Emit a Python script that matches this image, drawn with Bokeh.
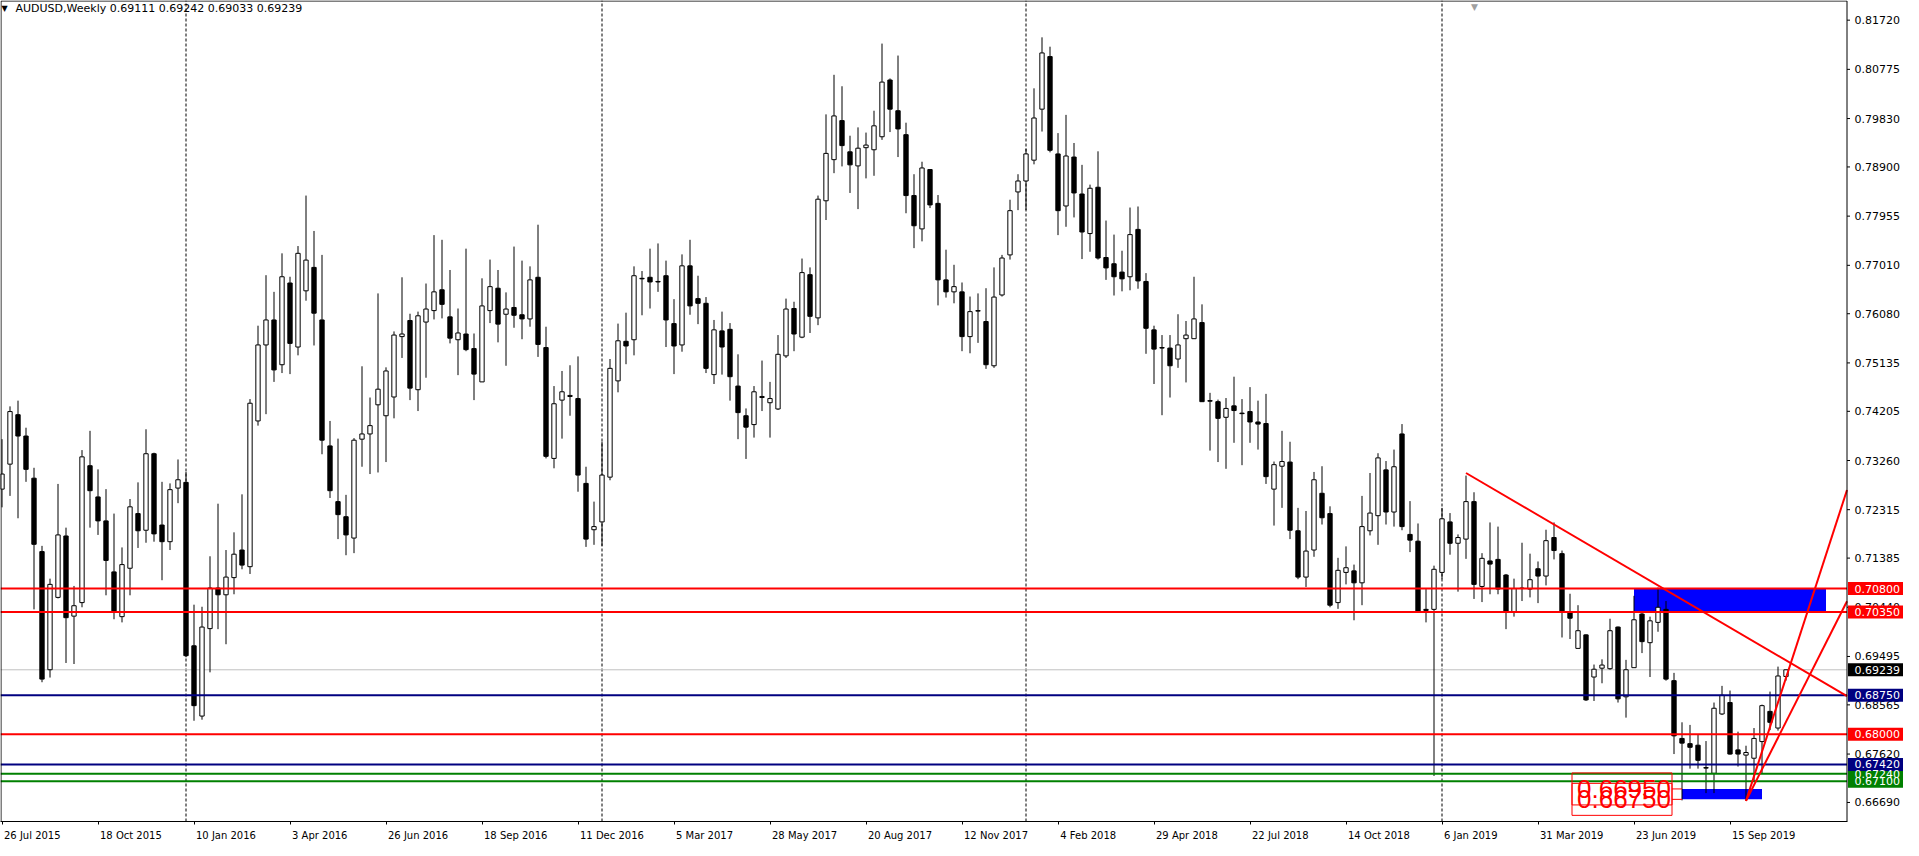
import pandas as pd
from bokeh.plotting import figure
from bokeh.models import Label, FixedTicker, Range1d, ColumnDataSource
from bokeh.core.properties import value
from bokeh.embed import file_html
from bokeh.resources import INLINE

# ---------------- data ----------------
symbol_title = "AUDUSD,Weekly  0.69111 0.69242 0.69033 0.69239"
first_week = "2015-07-26"

opens = [
    .7271, .7319, .7414, .7373, .7292, .7151, .6924, .7063, .7181, .7027,   # 0
    .7053, .7316, .7256, .7210, .7112, .7026, .7119, .7224, .7192, .7339,   # 10
    .7202, .7170, .7273, .7284, .6970, .6835, .7003, .7081, .7068, .7101,   # 20
    .7154, .7122, .7402, .7548, .7596, .7510, .7667, .7544, .7652, .7697,   # 30
    .7596, .7354, .7247, .7218, .7177, .7367, .7377, .7433, .7412, .7448,   # 40
    .7564, .7595, .7462, .7592, .7614, .7654, .7602, .7558, .7569, .7541,   # 50
    .7477, .7614, .7657, .7607, .7620, .7606, .7598, .7678, .7543, .7330,   # 60
    .7442, .7449, .7445, .7282, .7193, .7208, .7294, .7479, .7555, .7558,   # 70
    .7676, .7678, .7670, .7681, .7589, .7548, .7700, .7637, .7628, .7491,   # 80
    .7575, .7578, .7469, .7412, .7395, .7447, .7437, .7425, .7527, .7618,   # 90
    .7563, .7683, .7600, .7825, .7904, .7979, .7919, .7892, .7927, .7923,   # 100
    .7948, .8057, .7998, .7952, .7835, .7771, .7885, .7820, .7673, .7650,   # 110
    .7650, .7564, .7613, .7593, .7508, .7644, .7721, .7842, .7863, .7903,   # 120
    .8001, .8102, .7915, .7815, .7909, .7838, .7762, .7851, .7716, .7704,   # 130
    .7688, .7679, .7770, .7670, .7577, .7543, .7542, .7521, .7560, .7560,   # 140
    .7591, .7441, .7439, .7409, .7431, .7417, .7420, .7400, .7397, .7271,   # 150
    .7315, .7323, .7191, .7102, .7154, .7263, .7224, .7053, .7111, .7114,   # 160
    .7091, .7191, .7220, .7308, .7227, .7377, .7184, .7171, .7040, .7040,   # 170
    .7111, .7208, .7167, .7175, .7247, .7084, .7133, .7136, .7106, .7034,   # 180
    .7081, .7079, .7118, .7104, .7178, .7147, .7035, .6965, .6991, .6910,   # 190
    .6927, .6926, .7006, .6872, .6928, .7031, .6976, .7015, .7040, .6903,   # 200
    .6792, .6782, .6779, .6736, .6725, .6839, .6861, .6770, .6760, .6754,   # 210
    .6786, .6844, .6812, .69111,                                            # 220
]
highs = [
    .7367, .7430, .7441, .7389, .7312, .7162, .7099, .7281, .7197, .7085,
    .7346, .7383, .7309, .7271, .7224, .7159, .7252, .7284, .7386, .7341,
    .7285, .7282, .7328, .7304, .7049, .7045, .7142, .7243, .7154, .7188,
    .7261, .7444, .7585, .7682, .7650, .7724, .7679, .7738, .7835, .7767,
    .7721, .7402, .7368, .7260, .7369, .7507, .7447, .7647, .7505, .7574,
    .7678, .7608, .7612, .7666, .7759, .7750, .7692, .7618, .7733, .7570,
    .7676, .7712, .7692, .7649, .7737, .7710, .7699, .7779, .7583, .7469,
    .7498, .7509, .7526, .7314, .7247, .7362, .7521, .7589, .7610, .7699,
    .7690, .7733, .7743, .7710, .7636, .7722, .7750, .7681, .7640, .7596,
    .7612, .7590, .7530, .7426, .7469, .7518, .7477, .7567, .7637, .7631,
    .7714, .7697, .7835, .7991, .8067, .8045, .7950, .7966, .7956, .7998,
    .8127, .8060, .8104, .7975, .7876, .7900, .7886, .7836, .7731, .7702,
    .7668, .7641, .7647, .7657, .7697, .7721, .7827, .7876, .7925, .8041,
    .8139, .8121, .7955, .7990, .7936, .7894, .7856, .7920, .7787, .7760,
    .7729, .7812, .7814, .7686, .7585, .7567, .7567, .7607, .7594, .7679,
    .7626, .7456, .7443, .7446, .7487, .7444, .7467, .7441, .7454, .7324,
    .7383, .7362, .7235, .7229, .7304, .7315, .7238, .7139, .7161, .7126,
    .7258, .7302, .7340, .7325, .7347, .7396, .7248, .7205, .7079, .7124,
    .7235, .7225, .7184, .7297, .7265, .7148, .7207, .7199, .7108, .7099,
    .7168, .7147, .7132, .7193, .7207, .7153, .7070, .7048, .6992, .6934,
    .6944, .7022, .7007, .6943, .7066, .7037, .7026, .7082, .7056, .6918,
    .6823, .6818, .6800, .6787, .6861, .6893, .6884, .6805, .6778, .6812,
    .6857, .6882, .6930, .69242,
]
lows = [
    .7236, .7258, .7215, .7285, .7040, .6900, .6909, .7061, .6937, .6935,
    .7044, .7197, .7183, .7067, .7021, .7015, .7067, .7158, .7168, .7170,
    .7096, .7154, .7244, .6948, .6826, .6828, .6919, .7002, .6973, .7069,
    .7117, .7108, .7393, .7415, .7477, .7494, .7492, .7528, .7633, .7547,
    .7338, .7254, .7175, .7144, .7148, .7314, .7300, .7303, .7323, .7407,
    .7523, .7442, .7421, .7485, .7597, .7599, .7551, .7490, .7536, .7442,
    .7477, .7590, .7553, .7508, .7581, .7559, .7583, .7525, .7330, .7311,
    .7368, .7412, .7266, .7160, .7164, .7162, .7288, .7457, .7511, .7528,
    .7605, .7618, .7650, .7544, .7492, .7535, .7606, .7588, .7494, .7473,
    .7491, .7441, .7367, .7329, .7370, .7421, .7370, .7423, .7523, .7536,
    .7561, .7571, .7586, .7788, .7878, .7891, .7840, .7809, .7868, .7873,
    .7942, .7957, .7909, .7801, .7734, .7747, .7811, .7624, .7639, .7628,
    .7536, .7532, .7552, .7502, .7504, .7641, .7712, .7807, .7807, .7895,
    .7958, .7918, .7759, .7775, .7793, .7713, .7727, .7712, .7673, .7643,
    .7651, .7653, .7656, .7531, .7473, .7413, .7447, .7504, .7476, .7560,
    .7439, .7345, .7323, .7310, .7360, .7317, .7360, .7347, .7281, .7201,
    .7235, .7175, .7098, .7083, .7141, .7203, .7044, .7041, .7088, .7019,
    .7048, .7182, .7164, .7203, .7199, .7192, .7150, .7034, .7015, .6720,
    .7098, .7145, .7074, .7137, .7060, .7054, .7069, .7069, .7002, .7026,
    .7056, .7063, .7052, .7086, .7136, .6986, .6983, .6965, .6864, .6864,
    .6898, .6924, .6861, .6832, .6928, .6956, .6910, .6997, .6903, .6762,
    .6673, .6734, .6734, .6687, .6687, .6837, .6761, .6738, .6672, .6709,
    .6725, .6808, .6807, .69033,
]
closes = [
    .7300, .7420, .7373, .7309, .7165, .6906, .7088, .7183, .7024, .7047,
    .7333, .7268, .7210, .7134, .7037, .7126, .7237, .7191, .7339, .7185,
    .7170, .7270, .7289, .6951, .6855, .7006, .7081, .7068, .7102, .7146,
    .7125, .7436, .7548, .7596, .7500, .7679, .7551, .7724, .7711, .7609,
    .7365, .7268, .7222, .7183, .7365, .7377, .7393, .7463, .7498, .7567,
    .7569, .7465, .7604, .7617, .7650, .7626, .7561, .7571, .7539, .7492,
    .7623, .7660, .7588, .7617, .7605, .7598, .7673, .7549, .7334, .7435,
    .7458, .7451, .7298, .7175, .7199, .7298, .7503, .7556, .7546, .7681,
    .7675, .7669, .7669, .7596, .7546, .7700, .7623, .7628, .7503, .7577,
    .7544, .7487, .7418, .7390, .7458, .7449, .7445, .7530, .7617, .7569,
    .7687, .7603, .7828, .7916, .7988, .7931, .7894, .7926, .7932, .7969,
    .8053, .8001, .7963, .7835, .7777, .7888, .7817, .7673, .7650, .7660,
    .7564, .7612, .7614, .7510, .7640, .7715, .7806, .7863, .7915, .7984,
    .8109, .7922, .7806, .7911, .7840, .7765, .7849, .7715, .7696, .7679,
    .7675, .7760, .7671, .7580, .7540, .7542, .7508, .7548, .7567, .7598,
    .7439, .7440, .7407, .7426, .7422, .7416, .7400, .7396, .7295, .7318,
    .7324, .7192, .7102, .7152, .7289, .7216, .7048, .7115, .7120, .7091,
    .7199, .7225, .7331, .7227, .7314, .7199, .7173, .7036, .7038, .7117,
    .7214, .7167, .7178, .7247, .7088, .7138, .7127, .7079, .7034, .7080,
    .7080, .7097, .7104, .7172, .7153, .7037, .7023, .6999, .6866, .6925,
    .6933, .6999, .6868, .6924, .7020, .6978, .7018, .7044, .6906, .6797,
    .6783, .6775, .6750, .6735, .6850, .6875, .6762, .6762, .6765, .6792,
    .6855, .6823, .6912, .69239,
]

x_tick_bars = list(range(0, 217, 12))
x_tick_labels = ["26 Jul 2015", "18 Oct 2015", "10 Jan 2016", "3 Apr 2016", "26 Jun 2016",
                 "18 Sep 2016", "11 Dec 2016", "5 Mar 2017", "28 May 2017", "20 Aug 2017",
                 "12 Nov 2017", "4 Feb 2018", "29 Apr 2018", "22 Jul 2018", "14 Oct 2018",
                 "6 Jan 2019", "31 Mar 2019", "23 Jun 2019", "15 Sep 2019"]
y_ticks = [0.81720, 0.80775, 0.79830, 0.78900, 0.77955, 0.77010, 0.76080, 0.75135, 0.74205,
           0.73260, 0.72315, 0.71385, 0.70440, 0.69495, 0.68565, 0.67620, 0.66690]

level_prices = [0.70800, 0.70350, 0.68750, 0.68000, 0.67420, 0.67240, 0.67100]
level_colors = ["#FF0000", "#FF0000", "#000080", "#FF0000", "#000080", "#008000", "#008000"]
tag_order = [5, 0, 1, 2, 3, 4, 6]          # hidden green tag first
bid_price = closes[-1]

zone_left = [204, 210]
zone_right = [228, 220]
zone_bottom = [0.70350, 0.66750]
zone_top = [0.70800, 0.66950]

trend_x0 = [183, 218, 218]
trend_y0 = [0.7302, 0.6672, 0.6672]
trend_x1 = [231, 231, 231]
trend_y1 = [0.6870, 0.7287, 0.7067]

price_tag_bar = 210
price_tag_values = [0.66950, 0.66750]

# ---------------- geometry (screen mapping) ----------------
FRAME_W, FRAME_H = 1903, 821
BAR0_SX = 1.5            # screen x of bar 0 inside the frame
PX_PER_BAR = 8.0
CHART_RIGHT_SX = 1846.5  # the chart's right border inside the frame
PX_PER_PRICE = 5205.0
REF_PRICE, REF_SY = 0.73260, 460.0


def bar_at(sx):
    return (sx - BAR0_SX) / PX_PER_BAR


def price_at(sy):
    return REF_PRICE - (sy - REF_SY) / PX_PER_PRICE


x_start, x_end = bar_at(0), bar_at(FRAME_W)
y_top, y_bot = price_at(0), price_at(FRAME_H)
x_edge = bar_at(CHART_RIGHT_SX)
x_lborder = bar_at(0.5)
y_tborder = price_at(0.5)

FONT = "DejaVu Sans"

p = figure(frame_width=FRAME_W, frame_height=FRAME_H,
           x_range=Range1d(x_start, x_end), y_range=Range1d(y_bot, y_top),
           output_backend="svg", toolbar_location=None, y_axis_location=None,
           min_border_left=0, min_border_top=0, min_border_right=0, min_border_bottom=19)
p.background_fill_color = "white"
p.border_fill_color = "white"
p.outline_line_color = None
p.xgrid.visible = False
p.ygrid.visible = False

# ----- bottom axis: tick marks at the bars (minor ticks), labels starting at each tick -----
DV = {' ': 651, '.': 651, 'J': 604, 'a': 1255, 'n': 1298, 'F': 1178, 'e': 1260, 'b': 1300,
      'M': 1767, 'r': 842, 'A': 1401, 'p': 1300, 'u': 1298, 'l': 569, 'S': 1300, 'O': 1612,
      'c': 1126, 't': 803, 'D': 1577, 'o': 1253, 'g': 1300, 'N': 1532, 'v': 1212, 'y': 1212}
XFS = 10.0


def text_w(s, size):
    return sum(DV.get(ch, 1303) for ch in s) * size / 2048.0


label_centers = [b + (text_w(s, XFS) / 2 + 2) / PX_PER_BAR for b, s in zip(x_tick_bars, x_tick_labels)]
p.xaxis.ticker = FixedTicker(ticks=label_centers, minor_ticks=x_tick_bars)
p.xaxis.major_label_overrides = {c: s for c, s in zip(label_centers, x_tick_labels)}
p.xaxis.bounds = (x_start, x_edge)
p.xaxis.major_label_standoff = 5
p.xaxis.axis_line_color = "black"
p.xaxis.major_tick_line_color = None
p.xaxis.major_tick_out = 0
p.xaxis.major_tick_in = 0
p.xaxis.minor_tick_line_color = "black"
p.xaxis.minor_tick_out = 3
p.xaxis.minor_tick_in = 0
p.xaxis.major_label_text_font = FONT
p.xaxis.major_label_text_font_size = "10px"
p.xaxis.major_label_text_color = "black"

# ----- year separators -----
dates = pd.date_range(first_week, periods=len(opens), freq="7D")
sep_bars = [i for i in range(1, len(dates)) if dates[i].year != dates[i - 1].year]
p.segment(x0=sep_bars, y0=[y_bot] * len(sep_bars), x1=sep_bars, y1=[y_top] * len(sep_bars),
          line_color="black", line_width=1, line_dash="3 2")

# bid line
p.segment(x0=[x_start], y0=[bid_price], x1=[x_edge], y1=[bid_price], line_color="#C0C0C0", line_width=1)

# zones (behind candles)
p.quad(left=zone_left, right=zone_right, bottom=zone_bottom, top=zone_top,
       fill_color="#0000FF", line_color=None)

# ----- candles -----
idx = list(range(len(opens)))
src = ColumnDataSource(dict(
    x=idx, o=opens, h=highs, l=lows, c=closes,
    top=[max(o, c) for o, c in zip(opens, closes)],
    bot=[min(o, c) for o, c in zip(opens, closes)],
    fill=["white" if c >= o else "black" for o, c in zip(opens, closes)],
))
p.segment(x0="x", y0="l", x1="x", y1="h", source=src, line_color="black", line_width=1)
p.vbar(x="x", width=0.54, top="top", bottom="bot", source=src,
       fill_color="fill", line_color="black", line_width=1)

# ----- horizontal levels -----
n_lv = len(level_prices)
p.segment(x0=[x_start] * n_lv, y0=level_prices, x1=[x_edge] * n_lv, y1=level_prices,
          line_color=level_colors, line_width=2)

# ----- trend lines (rays clipped at the chart's right border) -----
rx1, ry1 = [], []
for x0, y0, x1, y1 in zip(trend_x0, trend_y0, trend_x1, trend_y1):
    slope = (y1 - y0) / (x1 - x0)
    rx1.append(x_edge)
    ry1.append(y0 + slope * (x_edge - x0))
p.segment(x0=trend_x0, y0=trend_y0, x1=rx1, y1=ry1, line_color="#FF0000", line_width=2)

# ----- left price labels of the lower zone -----
tag_cx = price_tag_bar - 60 / PX_PER_BAR
p.rect(x=[tag_cx] * 2, y=price_tag_values, width=100, height=32,
       width_units="screen", height_units="screen", fill_color=None,
       line_color="#FF0000", line_width=1)
p.segment(x0=[price_tag_bar - 10 / PX_PER_BAR] * 2, y0=price_tag_values,
          x1=[price_tag_bar] * 2, y1=price_tag_values, line_color="#FF0000", line_width=1)
p.text(x=[price_tag_bar] * 2, y=price_tag_values, text=[f"{v:.5f}" for v in price_tag_values],
       x_offset=-11, text_align="right", text_baseline="middle", text_color="#FF0000",
       text_font=value("Liberation Sans"), text_font_size="26px")

# ----- price scale (right) -----
n_t = len(y_ticks)
p.segment(x0=[x_edge] * n_t, y0=y_ticks, x1=[x_edge + 3 / PX_PER_BAR] * n_t, y1=y_ticks,
          line_color="black", line_width=1)
p.text(x=[x_edge] * n_t, y=y_ticks, text=[f"{v:.5f}" for v in y_ticks], x_offset=7.5,
       text_align="left", text_baseline="middle", text_color="black",
       text_font=value(FONT), text_font_size="11px")

tag_prices = [level_prices[k] for k in tag_order] + [bid_price]
tag_colors = [level_colors[k] for k in tag_order] + ["#000000"]
tag_cx_r = x_edge + 29 / PX_PER_BAR
p.rect(x=[tag_cx_r] * len(tag_prices), y=tag_prices, width=56, height=13,
       width_units="screen", height_units="screen", fill_color=tag_colors, line_color=None)
p.text(x=[x_edge] * len(tag_prices), y=tag_prices, text=[f"{v:.5f}" for v in tag_prices],
       x_offset=7.5, text_align="left", text_baseline="middle", text_color="white",
       text_font=value(FONT), text_font_size="11px")

# ----- chart border -----
p.segment(x0=[x_lborder, x_lborder, x_edge], y0=[y_bot, y_tborder, y_bot],
          x1=[x_lborder, x_edge, x_edge], y1=[y_tborder, y_tborder, y_tborder],
          line_color="black", line_width=1)

# ----- title -----
p.add_layout(Label(x=1, y=FRAME_H - 8, x_units="screen", y_units="screen", text="\u25BC",
                   text_baseline="middle", text_font=FONT, text_font_size="8px", text_color="black"))
p.add_layout(Label(x=15, y=FRAME_H - 8, x_units="screen", y_units="screen", text=symbol_title,
                   text_baseline="middle", text_font=FONT, text_font_size="11px", text_color="black"))
# chart shift marker
p.add_layout(Label(x=1474, y=FRAME_H - 1, x_units="screen", y_units="screen", text="\u25BC",
                   text_align="center", text_baseline="top", text_font=FONT,
                   text_font_size="9px", text_color="#A0A0A0"))

open("out.html", "w").write(file_html(p, INLINE))
